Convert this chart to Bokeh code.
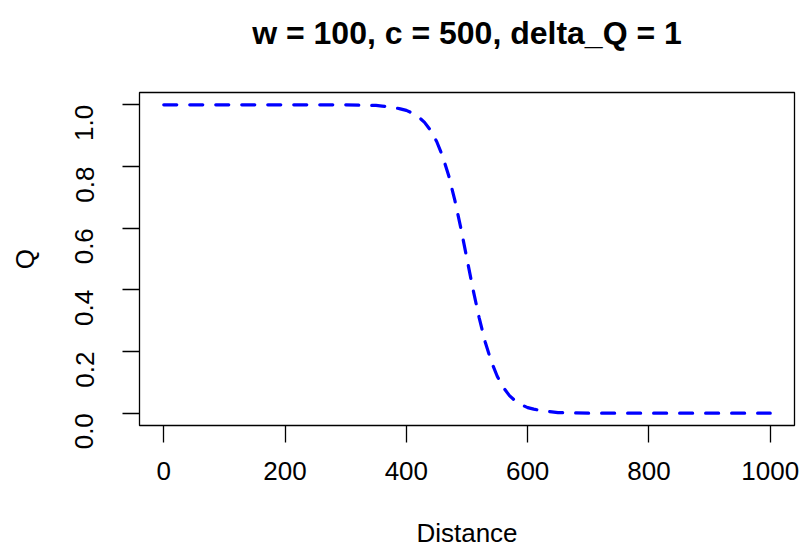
import math
from bokeh.plotting import figure
from bokeh.models import FixedTicker, NumeralTickFormatter, Range1d, LinearAxis
from bokeh.embed import file_html
from bokeh.resources import INLINE

# Data
distance = [0, 50, 100, 150, 200, 250, 300, 325,
            350, 360, 370, 380, 390, 400, 410, 420, 430, 440, 450, 460, 470,
            480, 490, 500, 510, 520, 530, 540, 550, 560, 570, 580, 590, 600,
            610, 620, 630, 640, 650, 675, 700, 750, 800, 850, 900, 950, 1000]
q_values = [1.0, 1.0, 1.0, 1.0, 1.0, 1.0, 1.0, 0.999,
            0.998, 0.996, 0.994, 0.991, 0.987, 0.982, 0.973, 0.961, 0.943, 0.917, 0.881, 0.832, 0.769,
            0.690, 0.599, 0.500, 0.401, 0.310, 0.231, 0.168, 0.119, 0.083, 0.057, 0.039, 0.027, 0.018,
            0.013, 0.009, 0.006, 0.004, 0.002, 0.001, 0.0, 0.0, 0.0, 0.0, 0.0, 0.0, 0.0]
x_ticks = [0, 200, 400, 600, 800, 1000]
y_ticks = [0.0, 0.2, 0.4, 0.6, 0.8, 1.0]
title_text = "w = 100, c = 500, delta_Q = 1"
x_label = "Distance"
y_label = "Q"

FONT = "Liberation Sans"

p = figure(width=801, height=550, output_backend="svg", toolbar_location=None,
           x_range=Range1d(-40, 1040), y_range=Range1d(-0.04, 1.04),
           min_border_left=139, min_border_right=7, min_border_top=92, min_border_bottom=125)

xa = p.below[0]
ya = p.left[0]

# Title drawn as the label of an empty axis above the frame
title_axis = LinearAxis(ticker=FixedTicker(ticks=[]), axis_line_color=None,
                        major_tick_out=0, major_tick_in=0, minor_tick_out=0, minor_tick_in=0,
                        major_label_standoff=0, axis_label=title_text,
                        axis_label_text_font=FONT, axis_label_text_font_size="32px",
                        axis_label_text_font_style="bold", axis_label_text_color="black",
                        axis_label_standoff=42)
p.add_layout(title_axis, "above")

p.line(distance, q_values, line_color="#0000FF", line_width=3.2,
       line_dash="13 13", line_cap="round")

p.xgrid.visible = False
p.ygrid.visible = False
p.outline_line_color = "black"
p.outline_line_width = 1.3
p.outline_line_alpha = 1.0
p.background_fill_color = "white"
p.border_fill_color = "white"

for ax in (xa, ya):
    ax.major_tick_out = 17
    ax.major_tick_in = 0
    ax.minor_tick_out = 0
    ax.minor_tick_in = 0
    ax.major_tick_line_color = "black"
    ax.major_tick_line_width = 1.3
    ax.axis_line_color = None
    ax.major_label_text_font = FONT
    ax.major_label_text_font_size = "26px"
    ax.major_label_text_color = "black"
    ax.axis_label_text_font = FONT
    ax.axis_label_text_font_size = "26px"
    ax.axis_label_text_font_style = "normal"
    ax.axis_label_text_color = "black"

xa.ticker = FixedTicker(ticks=x_ticks)
ya.ticker = FixedTicker(ticks=y_ticks)
ya.formatter = NumeralTickFormatter(format="0.0")
ya.major_label_orientation = math.pi / 2
xa.major_label_standoff = 19
ya.major_label_standoff = 38
xa.axis_label = x_label
ya.axis_label = y_label
xa.axis_label_standoff = 35
ya.axis_label_standoff = 24

open("out.html", "w").write(file_html(p, INLINE))
